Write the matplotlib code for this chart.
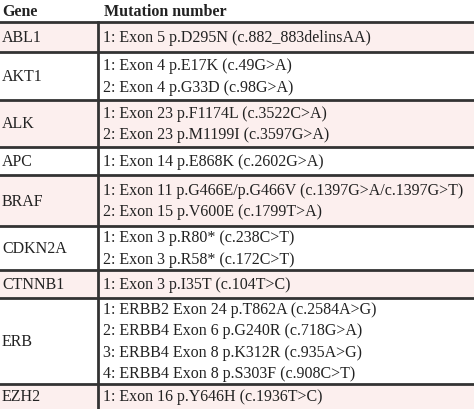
import matplotlib
matplotlib.use("Agg")
import matplotlib.pyplot as plt

header = ["Gene", "Mutation number"]
genes = ["ABL1", "AKT1", "ALK", "APC", "BRAF", "CDKN2A", "CTNNB1", "ERB", "EZH2"]
mutations = [
    ["1: Exon 5 p.D295N (c.882_883delinsAA)"],
    ["1: Exon 4 p.E17K (c.49G>A)", "2: Exon 4 p.G33D (c.98G>A)"],
    ["1: Exon 23 p.F1174L (c.3522C>A)", "2: Exon 23 p.M1199I (c.3597G>A)"],
    ["1: Exon 14 p.E868K (c.2602G>A)"],
    ["1: Exon 11 p.G466E/p.G466V (c.1397G>A/c.1397G>T)", "2: Exon 15 p.V600E (c.1799T>A)"],
    ["1: Exon 3 p.R80* (c.238C>T)", "2: Exon 3 p.R58* (c.172C>T)"],
    ["1: Exon 3 p.I35T (c.104T>C)"],
    ["1: ERBB2 Exon 24 p.T862A (c.2584A>G)", "2: ERBB4 Exon 6 p.G240R (c.718G>A)",
     "3: ERBB4 Exon 8 p.K312R (c.935A>G)", "4: ERBB4 Exon 8 p.S303F (c.908C>T)"],
    ["1: Exon 16 p.Y646H (c.1936T>C)"],
]

# layout (pixel row boundaries)
bounds = [22, 52, 100, 147, 175, 226, 270, 298, 384, 420]
W, H = 474, 409
fig = plt.figure(figsize=(W / 100, H / 100), dpi=100)
ax = fig.add_axes([0, 0, 1, 1])
ax.set_xlim(0, W)
ax.set_ylim(H, 0)
ax.axis("off")
font = dict(family="Liberation Serif", fontsize=11.5, color="#222222")
ax.text(2, 12, header[0], fontweight="bold", va="center", **font)
ax.text(104, 12, header[1], fontweight="bold", va="center", **font)
vx = 98
lh = 21.5
for i, (g, muts) in enumerate(zip(genes, mutations)):
    top, bot = bounds[i], bounds[i + 1]
    if i % 2 == 0:
        ax.fill_between([0, W], top, bot, color="#fcefee", lw=0, zorder=0)
    mid = (top + bot) / 2 + 1 if i != 8 else top + 13
    ax.text(2, mid, g, va="center", **font)
    n = len(muts)
    for j, m in enumerate(muts):
        y = mid + (j - (n - 1) / 2) * lh
        ax.text(103, y, m, va="center", **font)
for b in bounds[:-1]:
    ax.plot([0, W], [b, b], color="#333333", lw=2.0, zorder=3)
ax.plot([vx, vx], [bounds[0], H], color="#333333", lw=2.0, zorder=3)
fig.savefig("out.png", dpi=100)
